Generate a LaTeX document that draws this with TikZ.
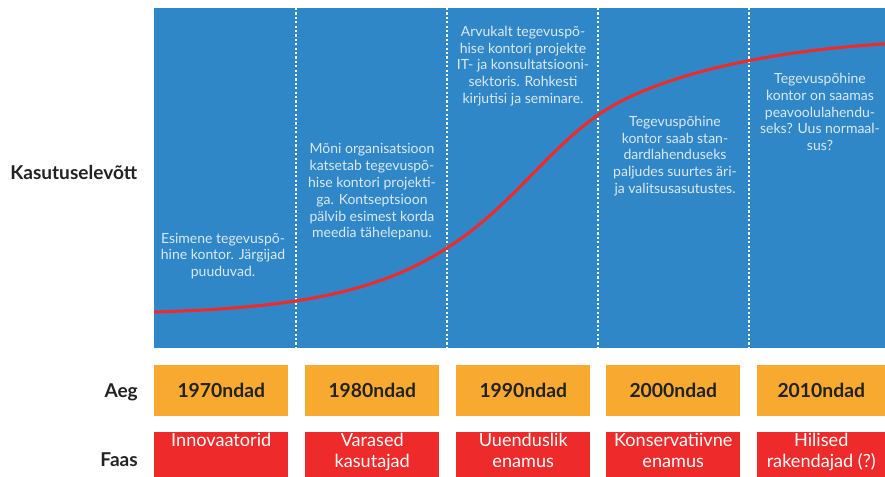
\documentclass[tikz,border=0pt]{standalone}
\usepackage{fontspec}
\setmainfont{Lato}
\usetikzlibrary{positioning}
\definecolor{chartblue}{HTML}{2F87C8}
\definecolor{yearorange}{HTML}{F8AA30}
\definecolor{phasered}{HTML}{EE2A2A}
\definecolor{notetext}{HTML}{DCE9F4}
\definecolor{labeltext}{HTML}{222222}
\tikzset{
  sep/.style={white, line width=2pt, dash pattern=on 1.7pt off 1.6pt},
  curve/.style={phasered, line width=2.3pt},
  note/.style={text=notetext, align=center, inner sep=0pt, font=\fontsize{10.5}{12.6}\selectfont},
  rowlabel/.style={text=labeltext, inner sep=0pt, font=\bfseries\fontsize{14.3}{16}\selectfont},
  yearbox/.style={fill=yearorange, anchor=north west, inner sep=0pt, minimum height=38pt,
    text=labeltext, font=\bfseries\fontsize{14.5}{16}\selectfont},
  phasebox/.style={fill=phasered, anchor=north west, inner sep=0pt, minimum height=34pt},
  phasetext/.style={text=white, align=center, inner sep=1pt, anchor=north,
    font=\fontsize{13.6}{15.5}\selectfont}
}

\begin{document}
\begin{tikzpicture}[x=0.75pt,y=-0.75pt]
		%%%%% START %%%%%
		\useasboundingbox (0,0) rectangle (885,477);
		
		% chart area
		\fill[chartblue] (154,8) rectangle (885,348);
		\foreach \x in {296,447,598,749}
			\draw[sep] (\x,8) -- (\x,348);
		
		% adoption curve
		\draw[curve] (154,312) .. controls (300,308) and (380,291) .. (447,248)
			.. controls (510,208) and (545,152) .. (598,115)
			.. controls (660,72) and (780,50) .. (885,44);
		
		% notes
		\node[note] (n1) at (223,256) {Esimene tegevuspõ-\\hine kontor. Järgijad\\puuduvad.};
		\node[note] (n2) at (372,192) {Mõni organisatsioon\\katsetab tegevuspõ-\\hise kontori projekti-\\ga. Kontseptsioon\\pälvib esimest korda\\meedia tähelepanu.};
		\node[note] (n3) at (523,66) {Arvukalt tegevuspõ-\\hise kontori projekte\\IT- ja konsultatsiooni-\\sektoris. Rohkesti\\kirjutisi ja seminare.};
		\node[note] (n4) at (675,156) {Tegevuspõhine\\kontor saab stan-\\dardlahenduseks\\paljudes suurtes äri-\\ja valitsusasutustes.};
		\node[note] (n5) at (820,112) {Tegevuspõhine\\kontor on saamas\\peavoolulahendu-\\seks? Uus normaal-\\sus?};
		
		% row labels
		\node[rowlabel, anchor=west] (use) at (10,172) {Kasutuselevõtt};
		\node[rowlabel, anchor=east] (aeg) at (138,392) {Aeg};
		\node[rowlabel, anchor=east] (faas) at (138,460) {Faas};
		
		% time and phase boxes
		\foreach \x/\w/\yr/\ph [count=\i] in {154/100.5/1970ndad/Innovaatorid,
				305/100.5/1980ndad/{Varased\\kasutajad},
				456/100.5/1990ndad/{Uuenduslik\\enamus},
				606/100.5/2000ndad/{Konservatiivne\\enamus},
				757/96/2010ndad/{Hilised\\rakendajad (?)}}{
			\node[yearbox, minimum width=\w pt] (year\i) at (\x,365) {\yr};
			\node[phasebox, minimum width=\w pt,
				label={[phasetext]north:\ph}] (phase\i) at (\x,432) {};
		}
		%%%%% END %%%%%
	\end{tikzpicture}
\end{document}
